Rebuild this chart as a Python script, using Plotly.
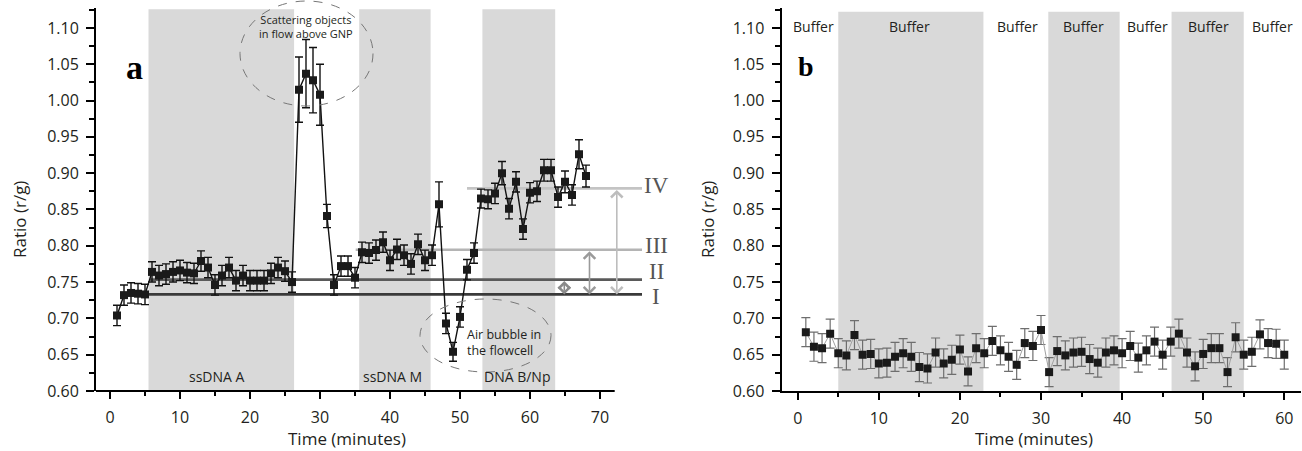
import plotly.graph_objects as go

W, H = 1302, 451

# ---------------- data: panel a ----------------
a_time = list(range(1, 69))
a_ratio = [0.704, 0.732, 0.735, 0.734, 0.733, 0.764, 0.759, 0.761, 0.764, 0.766,
           0.763, 0.762, 0.779, 0.770, 0.746, 0.759, 0.770, 0.752, 0.759, 0.752,
           0.752, 0.752, 0.762, 0.770, 0.765, 0.750, 1.015, 1.037, 1.028, 1.008,
           0.841, 0.746, 0.772, 0.772, 0.756, 0.791, 0.790, 0.794, 0.805, 0.780,
           0.795, 0.787, 0.775, 0.802, 0.780, 0.787, 0.857, 0.693, 0.654, 0.702,
           0.767, 0.790, 0.865, 0.864, 0.872, 0.900, 0.851, 0.888, 0.823, 0.873,
           0.875, 0.904, 0.904, 0.867, 0.888, 0.870, 0.926, 0.896]
a_err = [0.014, 0.014, 0.014, 0.014, 0.014, 0.014, 0.014, 0.014, 0.014, 0.014,
         0.014, 0.014, 0.014, 0.014, 0.014, 0.014, 0.014, 0.014, 0.014, 0.014,
         0.014, 0.014, 0.014, 0.014, 0.014, 0.014, 0.045, 0.047, 0.045, 0.042,
         0.016, 0.014, 0.014, 0.014, 0.014, 0.014, 0.014, 0.014, 0.014, 0.014,
         0.014, 0.014, 0.014, 0.014, 0.014, 0.014, 0.031, 0.014, 0.013, 0.014,
         0.014, 0.014, 0.013, 0.013, 0.014, 0.016, 0.014, 0.014, 0.014, 0.014,
         0.014, 0.015, 0.015, 0.014, 0.015, 0.014, 0.020, 0.015]

a_shade_start = [5.5, 35.6, 53.2]
a_shade_end = [26.3, 45.8, 63.6]
a_shade_labels = ["ssDNA A", "ssDNA M", "DNA B/Np"]
a_shade_label_x = [15.3, 40.4, 58.2]

level_names = ["I", "II", "III", "IV"]
level_values = [0.733, 0.7534, 0.7945, 0.879]
level_starts = [2.9, 5.7, 35.1, 51.0]
level_colors = ["#3a3a3a", "#5a5a5a", "#b4b4b4", "#c4c4c4"]
arrow_x = [64.9, 68.5, 72.4]
arrow_colors = ["#8a8a8a", "#9a9a9a", "#bdbdbd"]

# ---------------- data: panel b ----------------
b_time = list(range(1, 61))
b_ratio = [0.681, 0.661, 0.659, 0.679, 0.652, 0.649, 0.677, 0.650, 0.651, 0.638,
           0.639, 0.647, 0.652, 0.647, 0.633, 0.631, 0.653, 0.638, 0.643, 0.657,
           0.627, 0.659, 0.652, 0.669, 0.656, 0.647, 0.636, 0.666, 0.662, 0.684,
           0.626, 0.655, 0.649, 0.653, 0.654, 0.644, 0.639, 0.653, 0.656, 0.652,
           0.662, 0.646, 0.656, 0.668, 0.650, 0.668, 0.679, 0.653, 0.634, 0.651,
           0.659, 0.659, 0.626, 0.674, 0.650, 0.654, 0.678, 0.666, 0.665, 0.650]
b_err_value = 0.02
b_shade_start = [5.0, 30.9, 46.1]
b_shade_end = [22.9, 39.7, 55.0]
b_label_x = [1.9, 13.8, 27.1, 35.3, 43.1, 50.7, 58.5]
b_label_text = ["Buffer"] * 7

# ---------------- geometry helpers ----------------
def px(xp):
    return xp / W

def py(yp):
    return 1 - yp / H

Y_TOP_PX, Y_BOT_PX = 8.3, 391.0
Y_RANGE = [0.60, 1.127]
A_DOM = [px(96), px(642)]
A_RANGE = [-2, 76]
B_DOM = [px(781.5), px(1300.5)]
B_RANGE = [-2, 62]

SANS = "Open Sans"
SERIF = "Liberation Serif"
TXT = "#231f20"

fig = go.Figure()

fig.add_trace(go.Scatter(
    x=a_time, y=a_ratio, mode="lines+markers", xaxis="x", yaxis="y",
    line=dict(color="#111111", width=1.4),
    marker=dict(symbol="square", size=8, color="#1a1a1a"),
    error_y=dict(type="data", array=a_err, visible=True, color="#111111",
                 thickness=1.4, width=4),
    showlegend=False, hoverinfo="skip"))

fig.add_trace(go.Scatter(
    x=b_time, y=b_ratio, mode="lines+markers", xaxis="x2", yaxis="y2",
    line=dict(color="#a0a0a0", width=1),
    marker=dict(symbol="square", size=8, color="#1a1a1a"),
    error_y=dict(type="constant", value=b_err_value, visible=True, color="#6e6e6e",
                 thickness=1.2, width=4.5),
    showlegend=False, hoverinfo="skip"))

shapes = []
annotations = []

def note(**kw):
    kw.setdefault("xanchor", "center")
    kw.setdefault("yanchor", "middle")
    kw.setdefault("showarrow", False)
    annotations.append(kw)

# shaded regions
for s, e in zip(a_shade_start, a_shade_end):
    shapes.append(dict(type="rect", xref="x", yref="y", x0=s, x1=e, y0=0.60, y1=1.1257,
                       fillcolor="#d9d9d9", line=dict(width=0), layer="below"))
for s, e in zip(b_shade_start, b_shade_end):
    shapes.append(dict(type="rect", xref="x2", yref="y2", x0=s, x1=e, y0=0.60, y1=1.1224,
                       fillcolor="#d9d9d9", line=dict(width=0), layer="below"))

# level lines
for v, s, c in zip(level_values, level_starts, level_colors):
    shapes.append(dict(type="line", xref="x", yref="y", x0=s, x1=A_RANGE[1], y0=v, y1=v,
                       line=dict(color=c, width=2.6), layer="below"))

# manual x axis line for panel a (stops at ~72)
shapes.append(dict(type="line", xref="x", yref="paper", x0=-2, x1=72.1,
                   y0=py(Y_BOT_PX), y1=py(Y_BOT_PX), line=dict(color="black", width=2)))

# dashed ellipses
shapes.append(dict(type="circle", xref="paper", yref="paper",
                   x0=px(240), x1=px(373), y0=py(106), y1=py(1),
                   line=dict(color="#777777", width=1, dash="dash")))
shapes.append(dict(type="circle", xref="paper", yref="paper",
                   x0=px(420), x1=px(551), y0=py(372), y1=py(299),
                   line=dict(color="#777777", width=1, dash="dash")))

# arrows between levels
targets = level_values[1:]
for xa, top, c in zip(arrow_x, targets, arrow_colors):
    annotations.append(dict(x=xa, y=level_values[0], ax=xa, ay=top, xref="x", yref="y",
                            axref="x", ayref="y", showarrow=True, arrowside="end+start",
                            arrowhead=4, arrowsize=1.4, arrowwidth=1.6, arrowcolor=c, text=""))

# level labels
label_px_y = [296, 271, 246, 186]
for name, yy in zip(level_names, label_px_y):
    note(x=px(656), y=py(yy), xref="paper", yref="paper", text=name,
         font=dict(family=SERIF, size=23, color="#555555"))

# shaded labels panel a
for t, xx in zip(a_shade_labels, a_shade_label_x):
    note(x=xx, y=py(376), xref="x", yref="paper", text=t,
         font=dict(family=SANS, size=14, color=TXT))

# buffer labels panel b
for t, xx in zip(b_label_text, b_label_x):
    note(x=xx, y=py(27), xref="x2", yref="paper", text=t,
         font=dict(family=SANS, size=14, color=TXT))

# ellipse texts
note(x=px(306), y=py(27), xref="paper", yref="paper",
     text="Scattering objects<br>in flow above GNP",
     font=dict(family=SANS, size=11, color=TXT), align="center")
note(x=px(504), y=py(342), xref="paper", yref="paper",
     text="Air bubble in<br>the flowcell",
     font=dict(family=SANS, size=12.5, color=TXT), align="left")

# panel letters
note(x=px(134), y=py(68), xref="paper", yref="paper", text="<b>a</b>",
     font=dict(family=SERIF, size=34, color="black"))
note(x=px(806), y=py(66), xref="paper", yref="paper", text="<b>b</b>",
     font=dict(family=SERIF, size=28, color="black"))

# axis titles
for xx in [347, 1034]:
    note(x=px(xx), y=py(438), xref="paper", yref="paper", text="Time (minutes)",
         font=dict(family=SANS, size=17, color=TXT))
for xx in [19, 707]:
    note(x=px(xx), y=py(220), xref="paper", yref="paper", text="Ratio (r/g)",
         textangle=-90, font=dict(family=SANS, size=17, color=TXT))

tickfont = dict(family=SANS, size=16, color=TXT)
yaxis_common = dict(range=Y_RANGE, tickmode="linear", tick0=0.6, dtick=0.05, tickformat=".2f",
                    ticks="outside", ticklen=8, tickwidth=1.5, tickcolor="black",
                    showline=True, linecolor="black", linewidth=2, showgrid=False,
                    zeroline=False, tickfont=tickfont, ticklabelstandoff=4, automargin=False,
                    minor=dict(tickmode="linear", tick0=0.6, dtick=0.025, ticks="outside",
                               ticklen=5, tickwidth=1.5, tickcolor="black", showgrid=False),
                    domain=[py(Y_BOT_PX), py(Y_TOP_PX)])

fig.update_layout(
    width=W, height=H, autosize=False, showlegend=False,
    margin=dict(l=0, r=0, t=0, b=0, pad=0, autoexpand=False),
    paper_bgcolor="white", plot_bgcolor="white",
    xaxis=dict(domain=A_DOM, range=A_RANGE, anchor="y", tickmode="array",
               tickvals=[0, 10, 20, 30, 40, 50, 60, 70], ticks="outside", ticklen=7,
               tickwidth=1.5, tickcolor="black", showline=False, showgrid=False,
               zeroline=False, tickfont=tickfont, ticklabelstandoff=5, automargin=False,
               minor=dict(tickmode="array", tickvals=[5, 15, 25, 35, 45, 55, 65],
                          ticks="outside", ticklen=4, tickwidth=1.5, tickcolor="black",
                          showgrid=False)),
    yaxis=dict(anchor="x", **yaxis_common),
    xaxis2=dict(domain=B_DOM, range=B_RANGE, anchor="y2", tickmode="array",
                tickvals=[0, 10, 20, 30, 40, 50, 60], ticks="outside", ticklen=7,
                tickwidth=1.5, tickcolor="black", showline=True, linecolor="black",
                linewidth=2, showgrid=False, zeroline=False, tickfont=tickfont,
                ticklabelstandoff=5, automargin=False,
                minor=dict(tickmode="array", tickvals=[5, 15, 25, 35, 45, 55],
                           ticks="outside", ticklen=4, tickwidth=1.5, tickcolor="black",
                           showgrid=False)),
    yaxis2=dict(anchor="x2", **yaxis_common),
    shapes=shapes, annotations=annotations,
)

fig.write_html("out.html",
               config={"displayModeBar": False, "responsive": False},
               post_script="document.body.style.margin='0';document.body.style.overflow='hidden';")
